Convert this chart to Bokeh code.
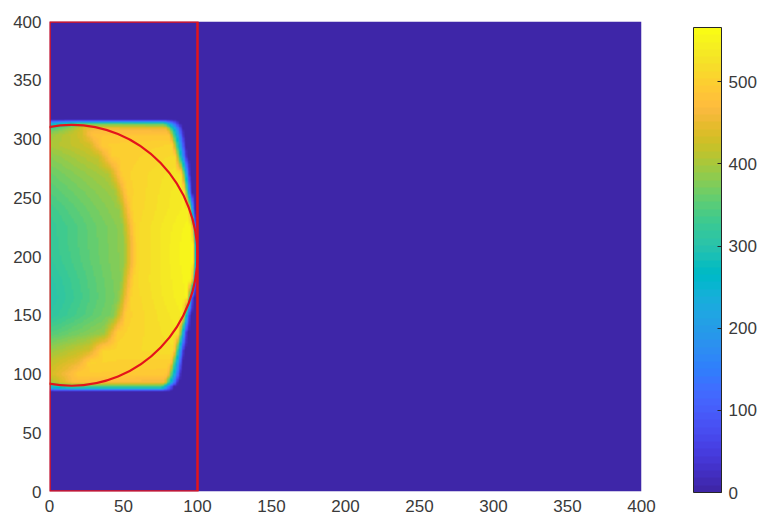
import numpy as np
from bokeh.plotting import figure
from bokeh.models import LinearColorMapper, ColorBar, FixedTicker, Range1d
from bokeh.embed import file_html
from bokeh.resources import INLINE

# ---------------- data ----------------
# Field is 400 x 400; background is 0. The bright blob sits at the left edge.
# Each row (at height row_y) is described by values read at a few positions:
#   left_val  : value at x = 0
#   mid_val   : value just before the green->yellow transition
#   turn_x    : x of the green->yellow transition
#   yel_val   : value just after the transition
#   peak_val  : value at the right end of the yellow plateau
#   edge_x    : x where the blob has faded to background
#   fade_w    : width of the fade at the right edge
row_y    = [85, 89, 93, 100, 110, 120, 135, 150, 165, 180, 195, 210, 225, 240, 255, 270, 285, 295, 304, 310, 313, 317]
left_val = [0, 260, 390, 430, 415, 390, 345, 310, 300, 305, 315, 320, 320, 330, 345, 360, 380, 400, 390, 320, 220, 0]
mid_val  = [0, 310, 430, 460, 450, 430, 390, 375, 375, 380, 385, 385, 385, 390, 395, 405, 420, 430, 430, 390, 290, 0]
turn_x   = [20, 12, 12, 16, 24, 32, 42, 48, 51, 53, 55, 55, 54, 52, 49, 45, 38, 32, 26, 20, 16, 20]
yel_val  = [0, 340, 470, 495, 505, 505, 500, 500, 505, 510, 510, 510, 510, 505, 500, 500, 495, 495, 485, 450, 340, 0]
peak_val = [0, 340, 460, 490, 500, 520, 530, 540, 550, 555, 560, 560, 555, 545, 540, 530, 515, 505, 485, 445, 330, 0]
edge_x   = [84, 84, 87, 89, 90, 91, 93, 95, 97, 99, 100, 100, 99, 98, 96, 95, 93, 92, 91, 90, 88, 88]
fade_w   = [8, 8, 9, 9, 8, 7, 6, 5, 4, 3, 3, 3, 3, 4, 5, 6, 8, 9, 10, 11, 11, 11]

field_size = 400
cbar_low, cbar_high = 0, 566
axis_ticks = [0, 50, 100, 150, 200, 250, 300, 350, 400]
cbar_ticks = [0, 100, 200, 300, 400, 500]

# red overlays
box_left, box_right, box_bottom, box_top = 0, 100, 0, 400
circle_cx, circle_cy, circle_rx, circle_ry = 15, 201, 85, 111

# MATLAB parula (64)
PARULA = [
(0.2422,0.1504,0.6603),(0.2504,0.1650,0.7076),(0.2578,0.1818,0.7511),(0.2647,0.1978,0.7952),
(0.2706,0.2147,0.8364),(0.2751,0.2342,0.8710),(0.2783,0.2559,0.8991),(0.2803,0.2782,0.9221),
(0.2813,0.3006,0.9414),(0.2810,0.3228,0.9579),(0.2795,0.3447,0.9717),(0.2760,0.3667,0.9829),
(0.2699,0.3892,0.9906),(0.2602,0.4123,0.9952),(0.2440,0.4358,0.9988),(0.2206,0.4603,0.9973),
(0.1963,0.4847,0.9892),(0.1834,0.5074,0.9798),(0.1786,0.5289,0.9682),(0.1764,0.5499,0.9520),
(0.1687,0.5703,0.9359),(0.1540,0.5902,0.9218),(0.1460,0.6091,0.9079),(0.1380,0.6276,0.8973),
(0.1248,0.6459,0.8883),(0.1113,0.6635,0.8763),(0.0952,0.6798,0.8598),(0.0689,0.6948,0.8394),
(0.0297,0.7082,0.8163),(0.0036,0.7203,0.7917),(0.0067,0.7312,0.7660),(0.0433,0.7411,0.7394),
(0.0964,0.7500,0.7120),(0.1408,0.7584,0.6842),(0.1717,0.7670,0.6554),(0.1938,0.7758,0.6251),
(0.2161,0.7843,0.5923),(0.2470,0.7918,0.5567),(0.2906,0.7973,0.5188),(0.3406,0.8008,0.4789),
(0.3909,0.8029,0.4354),(0.4456,0.8024,0.3909),(0.5044,0.7993,0.3480),(0.5616,0.7942,0.3045),
(0.6174,0.7876,0.2612),(0.6720,0.7793,0.2227),(0.7242,0.7698,0.1910),(0.7738,0.7598,0.1646),
(0.8203,0.7498,0.1535),(0.8634,0.7406,0.1596),(0.9035,0.7330,0.1774),(0.9393,0.7288,0.2100),
(0.9728,0.7298,0.2394),(0.9956,0.7434,0.2371),(0.9970,0.7659,0.2199),(0.9952,0.7893,0.2028),
(0.9892,0.8136,0.1885),(0.9786,0.8386,0.1766),(0.9676,0.8639,0.1643),(0.9610,0.8890,0.1537),
(0.9597,0.9135,0.1423),(0.9628,0.9373,0.1265),(0.9691,0.9606,0.1064),(0.9769,0.9839,0.0805)]
palette = ["#%02x%02x%02x" % tuple(int(round(c * 255)) for c in rgb) for rgb in PARULA]

# ---------------- build the field from the row readings ----------------
xs = np.arange(field_size) + 0.5
ys = np.arange(field_size) + 0.5
profiles = []
for i in range(len(row_y)):
    kx = [0, turn_x[i] - 5, turn_x[i] + 4, edge_x[i] - fade_w[i], edge_x[i]]
    kv = [left_val[i], mid_val[i], yel_val[i], peak_val[i], 0]
    profiles.append(np.interp(xs, kx, kv, right=0))
profiles = np.array(profiles)
img = np.zeros((field_size, field_size))
for j in range(field_size):
    img[:, j] = np.interp(ys, row_y, profiles[:, j], left=0, right=0)

# ---------------- figure ----------------
mapper = LinearColorMapper(palette=palette, low=cbar_low, high=cbar_high)

p = figure(frame_width=592, frame_height=470,
           x_range=Range1d(0, field_size), y_range=Range1d(0, field_size),
           output_backend="svg", toolbar_location=None,
           min_border_left=49, min_border_top=21, min_border_bottom=28, min_border_right=116)
p.background_fill_color = "white"
p.border_fill_color = "white"
p.outline_line_color = None
p.grid.visible = False

p.image(image=[img], x=0, y=0, dw=field_size, dh=field_size, color_mapper=mapper)

red = "#e3141b"
p.quad(left=[box_left], right=[box_right], bottom=[box_bottom], top=[box_top],
       fill_color=None, line_color=red, line_width=2.5)
p.ellipse(x=[circle_cx], y=[circle_cy], width=[2 * circle_rx], height=[2 * circle_ry],
          fill_color=None, line_color=red, line_width=2.2)

for ax in (p.xaxis[0], p.yaxis[0]):
    ax.ticker = FixedTicker(ticks=axis_ticks)
    ax.axis_line_color = None
    ax.major_tick_line_color = None
    ax.minor_tick_line_color = None
    ax.major_tick_in = 0
    ax.major_tick_out = 0
    ax.major_label_text_font = "Liberation Sans"
    ax.major_label_text_font_size = "17px"
    ax.major_label_text_color = "#3a3a3a"
p.xaxis[0].major_label_standoff = 8
p.yaxis[0].major_label_standoff = 8

cb = ColorBar(color_mapper=mapper, ticker=FixedTicker(ticks=cbar_ticks),
              width=28, height=465, padding=0, margin=0, location=(52, -1),
              bar_line_color="#262626", bar_line_width=1,
              major_tick_line_color="#262626", major_tick_in=4, major_tick_out=0,
              minor_tick_line_color=None, label_standoff=7,
              major_label_text_font="Liberation Sans", major_label_text_font_size="17px",
              major_label_text_color="#3a3a3a", background_fill_color=None,
              border_line_color=None)
p.add_layout(cb, "right")

open("out.html", "w").write(file_html(p, INLINE))
